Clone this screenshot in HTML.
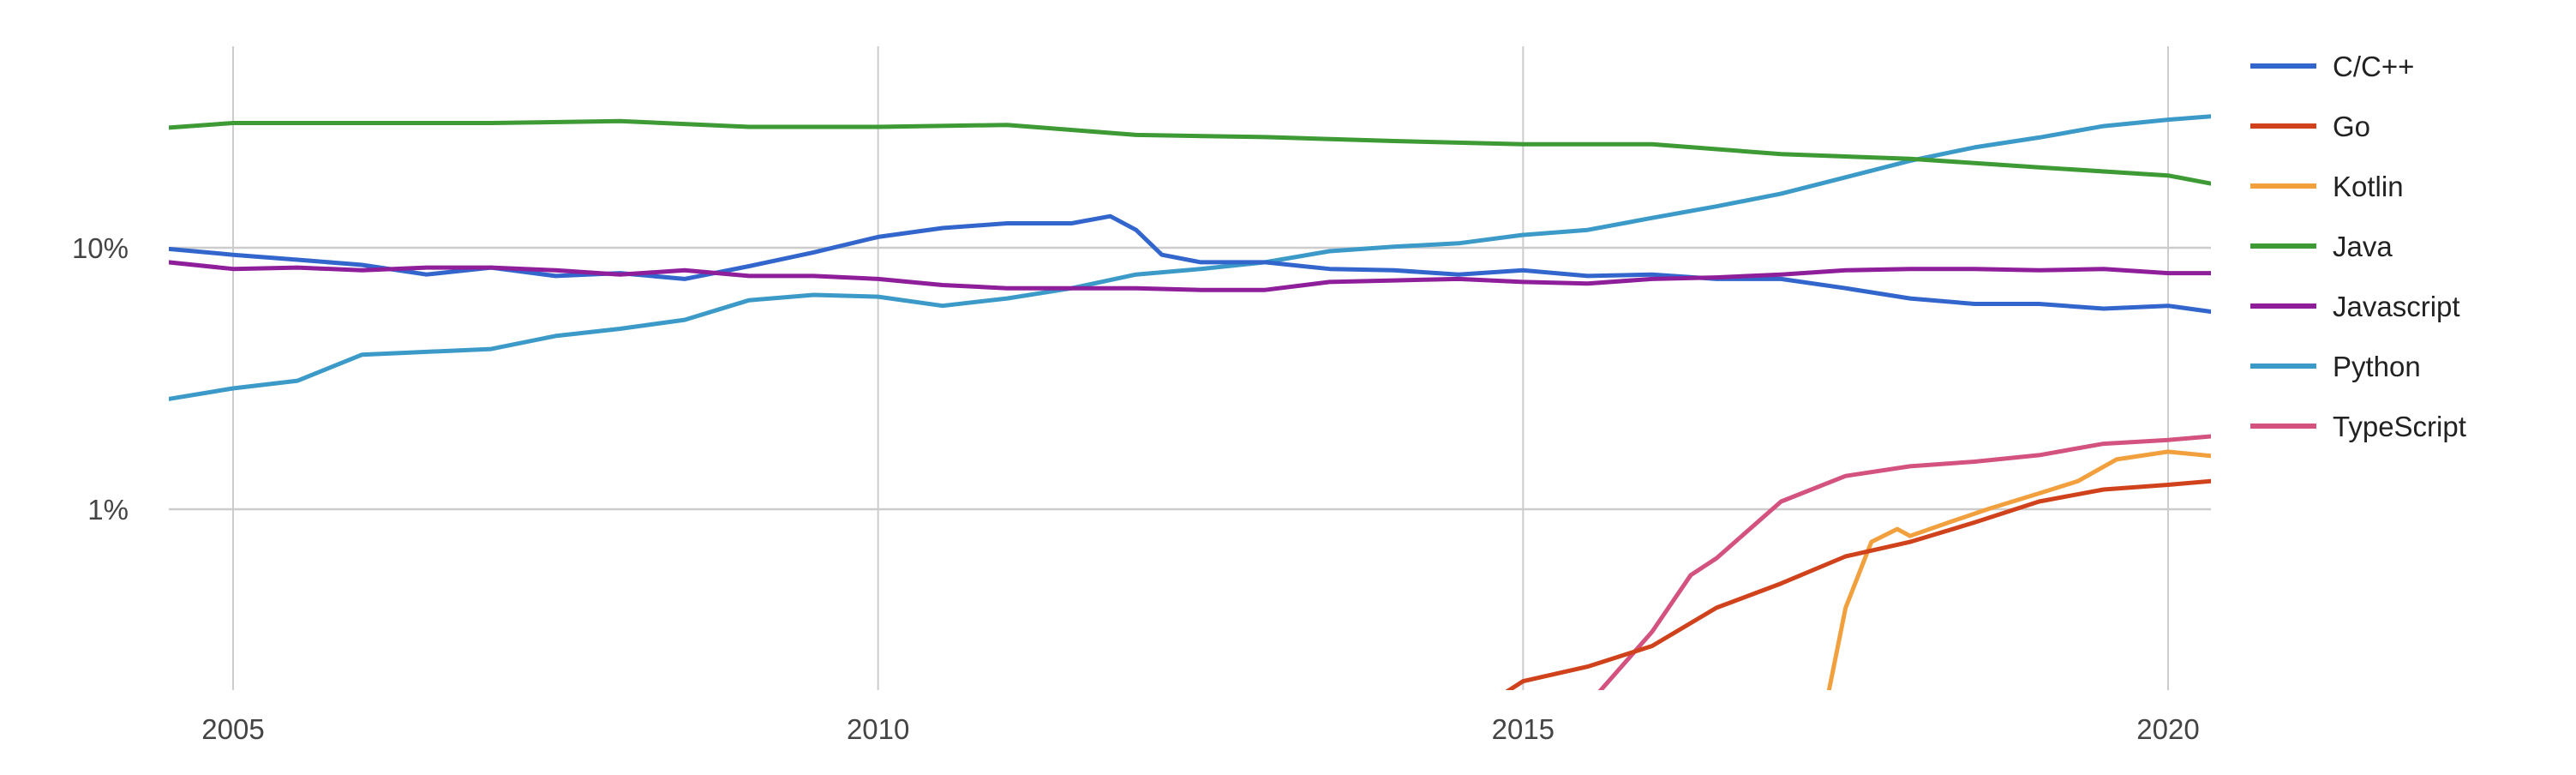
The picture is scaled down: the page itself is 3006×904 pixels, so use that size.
<!DOCTYPE html>
<html><head><meta charset="utf-8">
<style>
html,body{margin:0;padding:0;background:#fff;}
svg{display:block;font-family:"Liberation Sans",Arial,sans-serif;}
</style></head>
<body>
<svg id="chart" width="3006" height="904" viewBox="0 0 3006 904">
<defs><clipPath id="plotclip"><rect x="197" y="54" width="2383" height="751"/></clipPath></defs>
<g id="grid"></g>
<g id="series" clip-path="url(#plotclip)"></g>
<g id="axes"></g>
<g id="legend"></g>
</svg>
<script>
const xTicks = [2005, 2010, 2015, 2020];
const yTicks = [1, 10];
const yTickLabels = ["1%", "10%"];
const seriesNames = ["C/C++", "Go", "Kotlin", "Java", "Javascript", "Python", "TypeScript"];
const seriesColors = ["#3366cc", "#d0421b", "#f2a03d", "#3d9a34", "#8e1e9a", "#3b9ac8", "#d3527f"];
const cppYears = [2004.5,2005,2005.5,2006,2006.5,2007,2007.5,2008,2008.5,2009,2009.5,2010,2010.5,2011,2011.5,2011.8,2012,2012.2,2012.5,2013,2013.5,2014,2014.5,2015,2015.5,2016,2016.5,2017,2017.5,2018,2018.5,2019,2019.5,2020,2020.33];
const cppValues = [9.9,9.4,9.0,8.6,7.9,8.4,7.8,8.0,7.6,8.5,9.6,11.0,11.9,12.4,12.4,13.2,11.7,9.4,8.8,8.8,8.3,8.2,7.9,8.2,7.8,7.9,7.6,7.6,7.0,6.4,6.1,6.1,5.85,6.0,5.7];
const goYears = [2014.8,2015,2015.5,2016,2016.5,2017,2017.5,2018,2018.5,2019,2019.5,2020,2020.33];
const goValues = [0.19,0.22,0.25,0.3,0.42,0.52,0.66,0.75,0.89,1.07,1.19,1.24,1.28];
const kotlinYears = [2017.35,2017.5,2017.7,2017.9,2018,2018.3,2018.6,2019,2019.3,2019.6,2020,2020.33];
const kotlinValues = [0.18,0.42,0.75,0.84,0.79,0.89,1.0,1.15,1.28,1.55,1.66,1.6];
const javaYears = [2004.5,2005,2006,2007,2008,2009,2010,2011,2012,2013,2014,2015,2016,2017,2018,2019,2020,2020.33];
const javaValues = [28.8,30,30,30,30.5,29,29,29.5,27,26.5,25.6,24.9,24.9,22.8,21.9,20.3,18.9,17.6];
const jsYears = [2004.5,2005,2005.5,2006,2006.5,2007,2007.5,2008,2008.5,2009,2009.5,2010,2010.5,2011,2011.5,2012,2012.5,2013,2013.5,2014,2014.5,2015,2015.5,2016,2016.5,2017,2017.5,2018,2018.5,2019,2019.5,2020,2020.33];
const jsValues = [8.8,8.3,8.4,8.2,8.4,8.4,8.2,7.9,8.2,7.8,7.8,7.6,7.2,7.0,7.0,7.0,6.9,6.9,7.4,7.5,7.6,7.4,7.3,7.6,7.7,7.9,8.2,8.3,8.3,8.2,8.3,8.0,8.0];
const pyYears = [2004.5,2005,2005.5,2006,2007,2007.5,2008,2008.5,2009,2009.5,2010,2010.5,2011,2011.5,2012,2012.5,2013,2013.5,2014,2014.5,2015,2015.5,2016,2016.5,2017,2017.5,2018,2018.5,2019,2019.5,2020,2020.33];
const pyValues = [2.64,2.9,3.1,3.9,4.1,4.6,4.9,5.3,6.3,6.6,6.5,6.0,6.4,7.0,7.9,8.3,8.8,9.7,10.1,10.4,11.2,11.7,13.0,14.4,16.1,18.6,21.5,24.2,26.4,29.2,30.9,31.8];
const tsYears = [2015.55,2016,2016.3,2016.5,2017,2017.5,2018,2018.5,2019,2019.5,2020,2020.33];
const tsValues = [0.19,0.34,0.56,0.65,1.07,1.34,1.46,1.52,1.61,1.78,1.84,1.9];

const X0=197, X1=2580, Y0=54, Y1=805;
function xScale(yr){ return 272 + (yr-2005)*(2530-272)/15; }
function yScale(v){ return 289 - (Math.log10(v)-1)*305; }
const NS="http://www.w3.org/2000/svg";
function mk(tag, attrs, parent){ const e=document.createElementNS(NS,tag); for(const k in attrs) e.setAttribute(k,attrs[k]); parent.appendChild(e); return e; }
const grid=document.getElementById('grid'), axes=document.getElementById('axes'), ser=document.getElementById('series'), leg=document.getElementById('legend');

xTicks.forEach(t=>{
  const l=mk('line',{x1:xScale(t),x2:xScale(t),y1:Y0,y2:Y1,stroke:'#cccccc','stroke-width':2},grid);
  
  
  const tx=mk('text',{x:xScale(t),y:862,'text-anchor':'middle','font-size':33,fill:'#444'},axes);
  tx.textContent=String(t);
  
  
});
yTicks.forEach((t,i)=>{
  const l=mk('line',{x1:X0,x2:X1,y1:yScale(t),y2:yScale(t),stroke:'#cccccc','stroke-width':2.5},grid);
  
  
  const tx=mk('text',{x:150,y:yScale(t)+12,'text-anchor':'end','font-size':33,fill:'#444'},axes);
  tx.textContent=yTickLabels[i];
  
  
});
const allYears=[cppYears,goYears,kotlinYears,javaYears,jsYears,pyYears,tsYears];
const allValues=[cppValues,goValues,kotlinValues,javaValues,jsValues,pyValues,tsValues];
const drawOrder=[6,2,1,5,3,0,4];
drawOrder.forEach(i=>{
  const pts=allYears[i].map((yr,j)=>xScale(yr).toFixed(1)+','+yScale(allValues[i][j]).toFixed(1)).join(' ');
  const p=mk('polyline',{points:pts,fill:'none',stroke:seriesColors[i],'stroke-width':5,'stroke-linejoin':'round','stroke-linecap':'round'},ser);
  
  
});
seriesNames.forEach((n,i)=>{
  const y=77+i*70;
  const g=mk('g',{},leg);
  
  
  mk('line',{x1:2626,x2:2703,y1:y,y2:y,stroke:seriesColors[i],'stroke-width':6},g);
  const tx=mk('text',{x:2722,y:y+12,'font-size':33,fill:'#222'},g);
  tx.textContent=n;
});
</script>
</body></html>
